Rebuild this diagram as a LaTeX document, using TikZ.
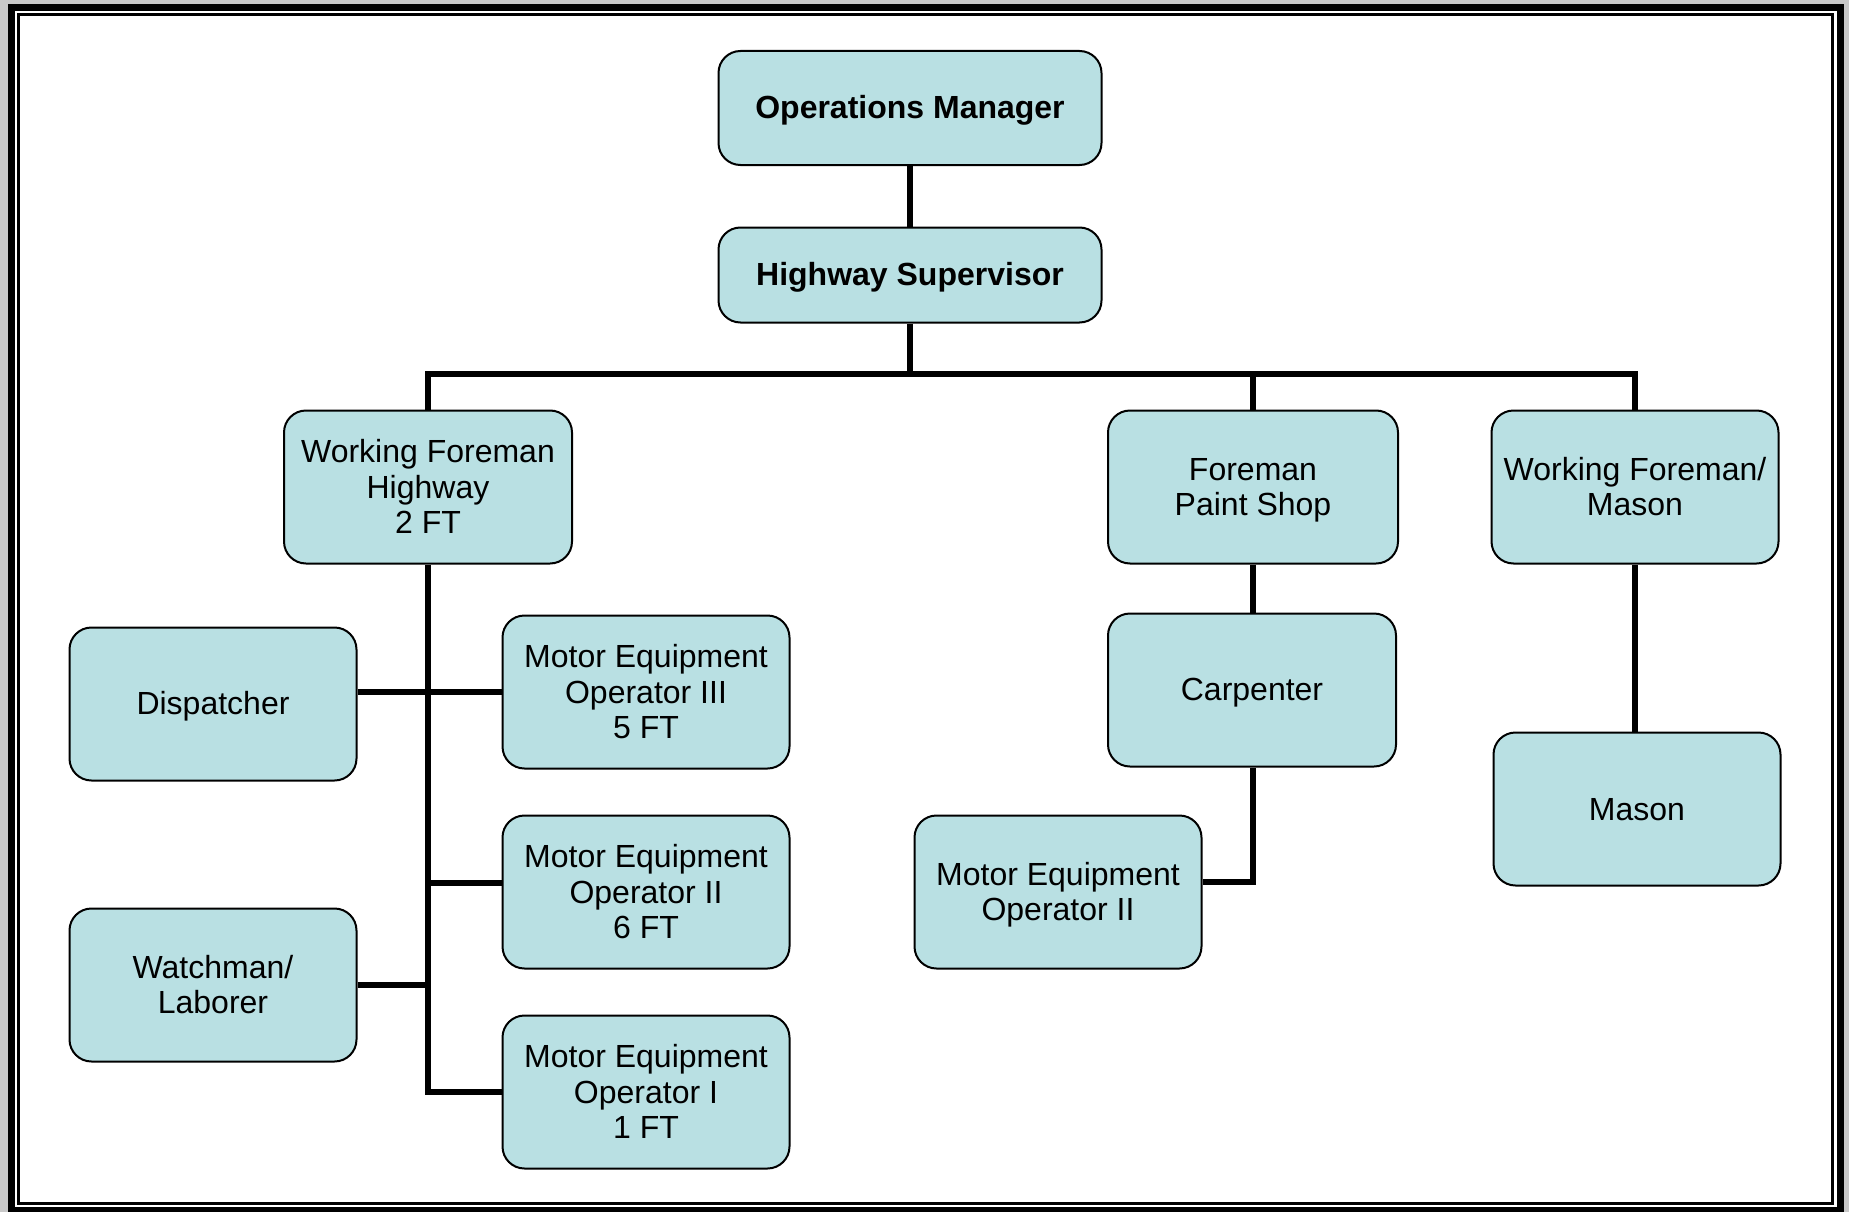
\documentclass[tikz,border=0pt]{standalone}
\usepackage{fontspec}
\setmainfont{Liberation Sans}
\definecolor{boxfill}{HTML}{B9E0E3}
\definecolor{framegray}{HTML}{C8C8C8}
% box text: fixed-height lines so one, two and three line labels sit alike
\newcommand\boxfont{\fontsize{32}{35}\selectfont
  \setbox\strutbox\hbox{\vrule height28.5pt depth6.5pt width0pt}}
\newcommand\boxlines[1]{\begin{tabular}{@{}c@{}}#1\end{tabular}}
\begin{document}
\begin{tikzpicture}[x=1pt,y=-1pt,
  unit/.style={draw=black, line width=2pt, fill=boxfill, rounded corners=22pt,
    inner sep=0pt, font=\boxfont},
  wide/.style={unit, minimum width=383pt},
  std/.style={unit, minimum width=287pt, minimum height=153pt},
  link/.style={line width=6pt, line join=miter}]
% page frame
\fill[framegray] (0,0) rectangle (1849,1212);
\fill[black] (8,4) rectangle (1844,1212);
\fill[white] (15,11) rectangle (1836.7,1207);
\draw[line width=3.3pt] (18.3,14.3) rectangle (1832.7,1203.3);
\useasboundingbox (0,0) rectangle (1849,1212);

% top of the chart
\node[wide, minimum height=114pt] (om) at (910,108) {\boxlines{\textbf{Operations Manager}}};
\node[wide, minimum height=95pt] (hs) at (910,275) {\boxlines{\textbf{Highway Supervisor}}};

% foremen
\node[std, minimum width=288pt] (wfh) at (428,487) {\boxlines{Working Foreman\\Highway\\2 FT}};
\node[std, minimum width=290pt] (fps) at (1253,487) {\boxlines{Foreman\\Paint Shop}};
\node[std] (wfm) at (1635,487) {\boxlines{Working Foreman/\\Mason}};

% highway crew
\node[std] (disp) at (213,704) {\boxlines{Dispatcher}};
\node[std] (meo3) at (646,692) {\boxlines{Motor Equipment\\Operator III\\5 FT}};
\node[std] (meo2) at (646,892) {\boxlines{Motor Equipment\\Operator II\\6 FT}};
\node[std] (meo1) at (646,1092) {\boxlines{Motor Equipment\\Operator I\\1 FT}};
\node[std] (watch) at (213,985) {\boxlines{Watchman/\\Laborer}};

% paint shop and mason crews
\node[std, minimum width=288pt] (carp) at (1252,690) {\boxlines{Carpenter}};
\node[std] (meo2b) at (1058,892) {\boxlines{Motor Equipment\\Operator II}};
\node[std] (mason) at (1637,809) {\boxlines{Mason}};

% reporting lines
\coordinate (bus) at (910,374);
\coordinate (trunkend) at (428,1092);
\coordinate (paintend) at (1253,882);

\draw[link] (om.south) -- (hs.north);
\draw[link] (wfh.north) -- (wfh.north |- bus) -- (wfm.north |- bus) -- (wfm.north);
\draw[link] (hs.south) -- (bus);
\draw[link] (fps.north |- bus) -- (fps.north);

\draw[link] (wfh.south) -- (trunkend) -- (meo1.west);
\draw[link] (disp.east |- meo3.west) -- (meo3.west);
\draw[link] (wfh.south |- 0,883) -- (meo2.west |- 0,883);
\draw[link] (watch.east) -- (wfh.south |- watch.east);

\draw[link] (fps.south) -- (fps.south |- carp.north);
\draw[link] (carp.south -| paintend) -- (paintend) -- (meo2b.east |- paintend);

\draw[link] (wfm.south) -- (wfm.south |- mason.north);
\end{tikzpicture}
\end{document}
